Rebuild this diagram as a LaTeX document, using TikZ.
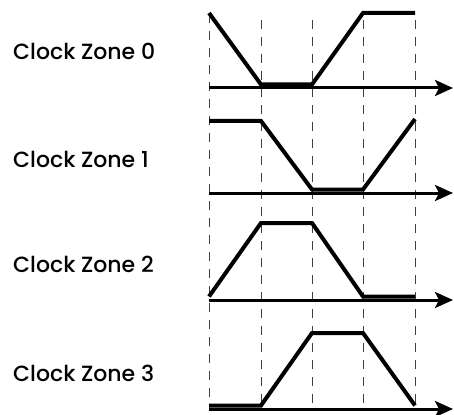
\documentclass[tikz,border=0pt]{standalone}
\usepackage{fontspec}
\setmainfont{Poppins Medium}
\usetikzlibrary{arrows.meta}
\tikzset{
  zonelabel/.style={font=\fontsize{22}{26}\selectfont, inner sep=0pt, anchor=west},
  wave/.style={line width=4pt, line join=miter},
  timeaxis/.style={line width=3pt, -{Stealth[length=18pt, width=16pt, inset=4pt]}},
  gridline/.style={draw=black!75, line width=1pt, dash pattern=on 9pt off 8pt}
}

\begin{document}
\begin{tikzpicture}[x=1pt, y=-1pt]
\useasboundingbox (0,0) rectangle (454,414);

% phase boundaries
\draw[gridline] (209,14) -- (209,410); \draw[gridline] (261,20) -- (261,410);
\draw[gridline] (312,20) -- (312,410); \draw[gridline] (363,20) -- (363,410);
\draw[gridline] (415,20) -- (415,410);

\node[zonelabel] (lab0) at (13,51) {Clock Zone 0};
\node[zonelabel] (lab1) at (13,159) {Clock Zone 1};
\node[zonelabel] (lab2) at (13,264) {Clock Zone 2};
\node[zonelabel] (lab3) at (13,373) {Clock Zone 3};

\coordinate (ax0) at (209,88);  \coordinate (tip0) at (453,88);
\coordinate (ax1) at (209,193); \coordinate (tip1) at (453,193);
\coordinate (ax2) at (209,300); \coordinate (tip2) at (453,300);
\coordinate (ax3) at (209,409); \coordinate (tip3) at (453,409);
\draw[timeaxis] (ax0) -- (tip0); \draw[timeaxis] (ax1) -- (tip1);
\draw[timeaxis] (ax2) -- (tip2); \draw[timeaxis] (ax3) -- (tip3);

% clock waveforms
\draw[wave] (209,13) -- (261,84.5) -- (312,84.5) -- (363,13) -- (415,13);
\draw[wave] (209,121) -- (261,121) -- (312,189.5) -- (363,189.5) -- (415,119);
\draw[wave] (209,296.5) -- (261,223) -- (312,223) -- (363,296.5) -- (415,296.5);
\draw[wave] (209,405.5) -- (261,405.5) -- (312,333) -- (363,333) -- (415,405.5);
\end{tikzpicture}
\end{document}
